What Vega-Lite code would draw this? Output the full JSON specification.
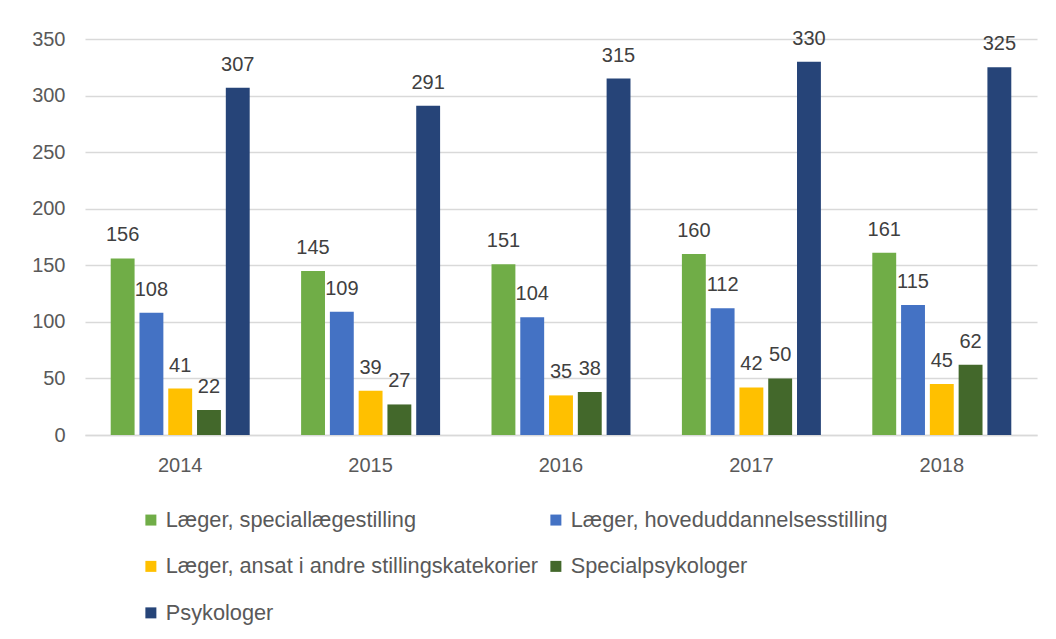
{
  "$schema": "https://vega.github.io/schema/vega-lite/v6.json",
  "autosize": "none",
  "width": 952,
  "height": 396,
  "padding": {"left": 85, "top": 39, "right": 19, "bottom": 204},
  "background": "white",
  "config": {
    "font": "Liberation Sans",
    "view": {"stroke": null},
    "axis": {"labelColor": "#595959", "labelFont": "Liberation Sans", "labelFontSize": 20, "title": null}
  },
  "data": {
    "values": [
      {"year": "2014", "series": "Læger, speciallægestilling", "value": 156},
      {"year": "2014", "series": "Læger, hoveduddannelsesstilling", "value": 108},
      {"year": "2014", "series": "Læger, ansat i andre stillingskatekorier", "value": 41},
      {"year": "2014", "series": "Specialpsykologer", "value": 22},
      {"year": "2014", "series": "Psykologer", "value": 307},
      {"year": "2015", "series": "Læger, speciallægestilling", "value": 145},
      {"year": "2015", "series": "Læger, hoveduddannelsesstilling", "value": 109},
      {"year": "2015", "series": "Læger, ansat i andre stillingskatekorier", "value": 39},
      {"year": "2015", "series": "Specialpsykologer", "value": 27},
      {"year": "2015", "series": "Psykologer", "value": 291},
      {"year": "2016", "series": "Læger, speciallægestilling", "value": 151},
      {"year": "2016", "series": "Læger, hoveduddannelsesstilling", "value": 104},
      {"year": "2016", "series": "Læger, ansat i andre stillingskatekorier", "value": 35},
      {"year": "2016", "series": "Specialpsykologer", "value": 38},
      {"year": "2016", "series": "Psykologer", "value": 315},
      {"year": "2017", "series": "Læger, speciallægestilling", "value": 160},
      {"year": "2017", "series": "Læger, hoveduddannelsesstilling", "value": 112},
      {"year": "2017", "series": "Læger, ansat i andre stillingskatekorier", "value": 42},
      {"year": "2017", "series": "Specialpsykologer", "value": 50},
      {"year": "2017", "series": "Psykologer", "value": 330},
      {"year": "2018", "series": "Læger, speciallægestilling", "value": 161},
      {"year": "2018", "series": "Læger, hoveduddannelsesstilling", "value": 115},
      {"year": "2018", "series": "Læger, ansat i andre stillingskatekorier", "value": 45},
      {"year": "2018", "series": "Specialpsykologer", "value": 62},
      {"year": "2018", "series": "Psykologer", "value": 325}
    ]
  },
  "encoding": {
    "x": {
      "field": "year", "type": "nominal",
      "scale": {"paddingInner": 0.27, "paddingOuter": 0.135},
      "axis": {"labelAngle": 0, "ticks": false, "domainColor": "#d9d9d9", "domainWidth": 1.5, "labelPadding": 20, "grid": false}
    },
    "xOffset": {
      "field": "series", "type": "nominal",
      "sort": ["Læger, speciallægestilling", "Læger, hoveduddannelsesstilling", "Læger, ansat i andre stillingskatekorier", "Specialpsykologer", "Psykologer"],
      "scale": {"paddingInner": 0.17}
    },
    "y": {
      "field": "value", "type": "quantitative",
      "scale": {"domain": [0, 350]},
      "axis": {"values": [0, 50, 100, 150, 200, 250, 300, 350], "domain": false, "ticks": false, "gridColor": "#d9d9d9", "gridWidth": 1.5, "labelPadding": 20}
    }
  },
  "layer": [
    {
      "mark": {"type": "bar"},
      "encoding": {
        "color": {
          "field": "series", "type": "nominal",
          "sort": ["Læger, speciallægestilling", "Læger, hoveduddannelsesstilling", "Læger, ansat i andre stillingskatekorier", "Specialpsykologer", "Psykologer"],
          "scale": {
            "domain": ["Læger, speciallægestilling", "Læger, hoveduddannelsesstilling", "Læger, ansat i andre stillingskatekorier", "Specialpsykologer", "Psykologer"],
            "range": ["#70ad47", "#4472c4", "#ffc000", "#43682b", "#264478"]
          },
          "legend": {
            "title": null,
            "orient": "none",
            "legendX": 55,
            "legendY": 470,
            "columns": 2,
            "direction": "horizontal",
            "symbolType": "square",
            "symbolSize": 121,
            "symbolStrokeWidth": 0,
            "labelFontSize": 21.75,
            "labelColor": "#595959",
            "labelLimit": 600,
            "labelOffset": 4,
            "columnPadding": 6,
            "rowPadding": 23.5
          }
        }
      }
    },
    {
      "mark": {"type": "text", "baseline": "alphabetic", "dy": -17, "fontSize": 20, "color": "#404040"},
      "encoding": {"text": {"field": "value", "type": "quantitative"}}
    }
  ]
}
